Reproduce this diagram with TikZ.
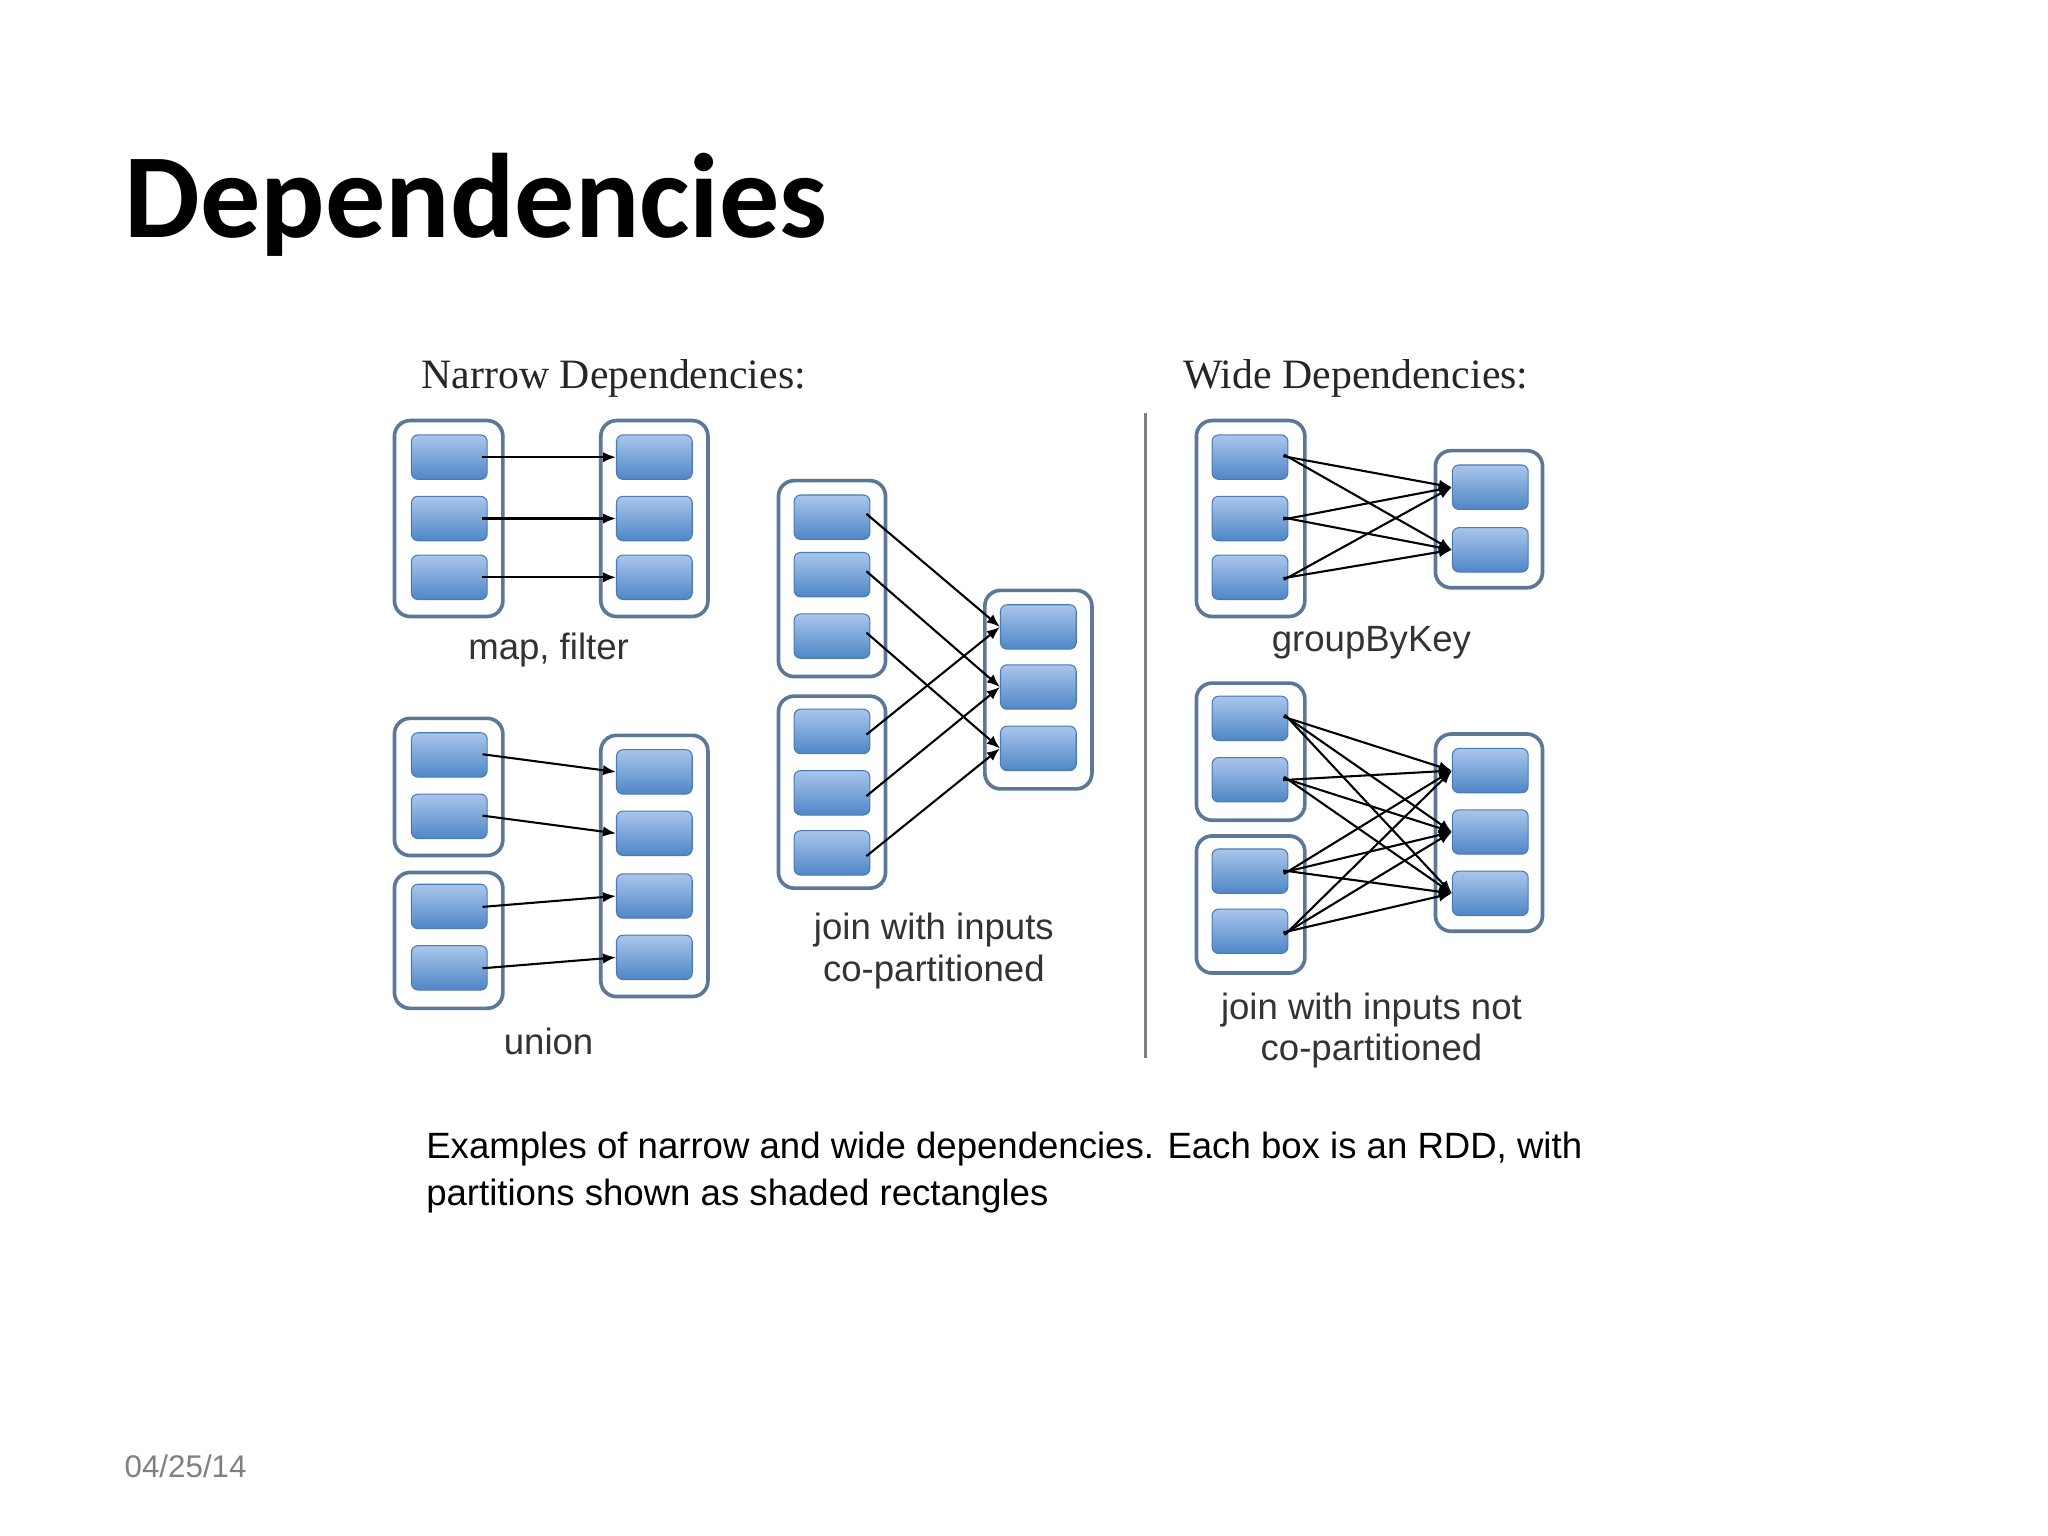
\documentclass[tikz,border=0pt]{standalone}
\usepackage{fontspec}
\setmainfont{Liberation Sans}
\newfontfamily\titlefont{Carlito}
\newfontfamily\seriffont{Liberation Serif}
\usetikzlibrary{arrows.meta}
\definecolor{partedge}{HTML}{4A7AB0}
\definecolor{parttop}{HTML}{A9C6EC}
\definecolor{partbot}{HTML}{4F86C6}
\definecolor{boxedge}{HTML}{5C7896}
\tikzset{
  part/.style={draw=partedge, rounded corners=2.5pt, top color=parttop, bottom color=partbot,
    minimum width=29pt, minimum height=17pt, inner sep=0pt},
  rdd/.style={draw=boxedge, line width=1.4pt, rounded corners=6pt, fill=white},
  dep/.style={-{Latex[length=5pt,width=4pt]}, line width=0.8pt, shorten <=-2pt},
  lbl/.style={font=\fontsize{14}{16}\selectfont, text=black!80, align=center},
  hdr/.style={font=\seriffont\fontsize{16}{18}\selectfont, text=black!85}
}
\begin{document}
\begin{tikzpicture}[x=0.5pt, y=-0.5pt]
\useasboundingbox (0,0) rectangle (1568,1176);
\fill[white] (0,0) rectangle (1568,1176);
\node[anchor=base west, font=\titlefont\bfseries\fontsize{46}{50}\selectfont, inner sep=0pt] (title) at (95,182) {Dependencies};

\node[hdr] (nh) at (470,290) {Narrow Dependencies:};
\node[hdr] (wh) at (1038,290) {Wide Dependencies:};
\draw[gray, line width=1.5pt] (877,316) -- (877,810);

% map, filter
\draw[rdd] (302,322) rectangle (385,472);
\draw[rdd] (460,322) rectangle (542,472);
\foreach \i/\y in {1/350,2/397,3/442}{
  \node[part] (ma\i) at (344,\y) {};
  \node[part] (mb\i) at (501,\y) {};
  \draw[dep] (ma\i.east) -- (mb\i.west);
}
\node[lbl] (ml) at (420,498) {map, filter};

% union
\draw[rdd] (302,550) rectangle (385,655);
\draw[rdd] (302,668) rectangle (385,772);
\draw[rdd] (460,563) rectangle (542,763);
\foreach \i/\y in {1/578,2/625,3/694,4/741}
  \node[part] (ua\i) at (344,\y) {};
\foreach \i/\y in {1/591,2/638,3/686,4/733}{
  \node[part] (ub\i) at (501,\y) {};
  \draw[dep] (ua\i.east) -- (ub\i.west);
}
\node[lbl] (ul) at (420,797) {union};

% join co-partitioned
\draw[rdd] (596,368) rectangle (678,518);
\draw[rdd] (596,533) rectangle (678,680);
\draw[rdd] (754,452) rectangle (836,604);
\foreach \i/\ya/\yb/\yc in {1/396/560/480,2/440/607/526,3/487/653/573}{
  \node[part] (ja\i) at (637,\ya) {};
  \node[part] (jb\i) at (637,\yb) {};
  \node[part] (jc\i) at (795,\yc) {};
}
\foreach \i in {1,2,3}{
  \draw[dep] (ja\i.east) -- (jc\i.west);
  \draw[dep] (jb\i.east) -- (jc\i.west);
}
\node[lbl] (jl) at (715,728) {join with inputs\\co-partitioned};

% groupByKey
\draw[rdd] (916,322) rectangle (999,472);
\draw[rdd] (1099,345) rectangle (1181,450);
\foreach \i/\y in {1/350,2/397,3/442} \node[part] (ga\i) at (957,\y) {};
\foreach \j/\y in {1/373,2/421} \node[part] (gb\j) at (1141,\y) {};
\foreach \i in {1,2,3} \foreach \j in {1,2} \draw[dep] (ga\i.east) -- (gb\j.west);
\node[lbl] (gl) at (1050,492) {groupByKey};

% join not co-partitioned
\draw[rdd] (916,523) rectangle (999,628);
\draw[rdd] (916,640) rectangle (999,745);
\draw[rdd] (1099,562) rectangle (1181,713);
\foreach \i/\y in {1/550,2/597,3/667,4/713} \node[part] (na\i) at (957,\y) {};
\foreach \j/\y in {1/590,2/637,3/684} \node[part] (nb\j) at (1141,\y) {};
\foreach \i in {1,2,3,4} \foreach \j in {1,2,3} \draw[dep] (na\i.east) -- (nb\j.west);
\node[lbl] (nl) at (1050,789) {join with inputs not\\co-partitioned};

\node[anchor=north west, align=left, font=\fontsize{14}{18}\selectfont, inner sep=0pt] (cap) at (326,866)
  {Examples of narrow and wide dependencies. Each box is an RDD, with\\partitions shown as shaded rectangles};
\node[anchor=base west, text=gray, font=\fontsize{12}{14}\selectfont, inner sep=0pt] (date) at (95,1131) {04/25/14};
\end{tikzpicture}
\end{document}
